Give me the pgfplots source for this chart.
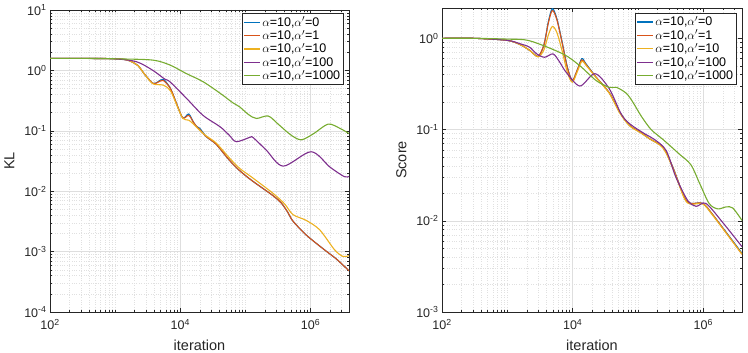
\documentclass[border=0pt]{standalone}
\usepackage{fontspec}
\setmainfont{Liberation Sans}
\usepackage{pgfplots}
\pgfplotsset{compat=1.18}
\definecolor{m1}{RGB}{0,114,189}
\definecolor{m2}{RGB}{217,83,25}
\definecolor{m3}{RGB}{237,177,32}
\definecolor{m4}{RGB}{126,47,142}
\definecolor{m5}{RGB}{119,172,48}
\definecolor{ax}{RGB}{38,38,38}
\newcommand{\labfont}{\fontsize{14.5}{17}\selectfont}
\newcommand{\tickfont}{\fontsize{12.5}{15}\selectfont}
\pgfplotsset{
    scale only axis,
    xmin=100, xmax=3.9e6,
    xtick={1e2,1e4,1e6},
    xticklabels={10\textsuperscript{2},10\textsuperscript{4},10\textsuperscript{6}},
    minor xtick={200,300,400,500,600,700,800,900,1000,2000,3000,4000,5000,6000,7000,8000,9000,
      2e4,3e4,4e4,5e4,6e4,7e4,8e4,9e4,1e5,2e5,3e5,4e5,5e5,6e5,7e5,8e5,9e5,2e6,3e6},
    grid=both,
    major grid style={color=black!13, line width=0.5pt},
    minor grid style={color=black!12, dotted, line width=0.5pt},
    axis line style={ax, line width=0.5pt},
    every tick/.style={ax, line width=0.5pt},
    major tick length=4pt, minor tick length=2.2pt,
    tick align=inside,
    xticklabel style={text=ax, font=\tickfont, yshift=-4pt},
    yticklabel style={text=ax, font=\tickfont},
    xlabel={iteration},
    xlabel style={text=ax, font=\labfont, yshift=-3pt},
    ylabel style={text=ax, font=\labfont, yshift=3pt},
    legend cell align=left,
    legend style={font=\fontsize{12.5}{14}\selectfont, draw=ax, line width=0.5pt, fill=white,
      row sep=-1.5pt, inner sep=1.5pt, anchor=north east},
    legend image code/.code={\draw[#1, line width=1.2pt] (0cm,0cm) -- (0.55cm,0cm);},
    every axis plot/.append style={line width=1.1pt, smooth, tension=0.5, mark=none},
}
\begin{document}
\begin{tikzpicture}
\useasboundingbox (0,0) rectangle (748pt,353pt);
% ---------------- Left: KL ----------------
\begin{loglogaxis}[
  anchor=south west,
  at={(50pt,41pt)}, width=299pt, height=302pt,
  ymin=1e-4, ymax=10,
  ytick={1e-4,1e-3,1e-2,1e-1,1e0,1e1},
  yticklabels={10\textsuperscript{-4},10\textsuperscript{-3},10\textsuperscript{-2},10\textsuperscript{-1},10\textsuperscript{0},10\textsuperscript{1}},
  ylabel={KL},
  legend style={at={(0.983,0.99)}},
]
\addplot[m1] coordinates {
(100,1.58)(316.2,1.58)(1000,1.56)(1585,1.47)(2239,1.2)(2818,0.87)(3802,0.61)(4571,0.65)
(5495,0.71)(7079,0.5)(8913,0.27)(10965,0.163)(13490,0.19)(15849,0.14)(17783,0.118)
(19953,0.11)(25119,0.08)(35481,0.06)(56234,0.033)(81283,0.022)(125893,0.015)(263027,0.0085)
(354813,0.0064)(446684,0.0045)(537032,0.0032)(851138,0.0019)(1584893,0.0011)(2511886,0.00075)(3900000,0.00048)};
\addlegendentry{$\alpha$=10,$\alpha'$=0}
\addplot[m2] coordinates {
(100,1.58)(316.2,1.58)(1000,1.56)(1585,1.47)(2239,1.2)(2818,0.87)(3802,0.61)(4571,0.64)
(5495,0.68)(7079,0.5)(8913,0.27)(10965,0.163)(13490,0.18)(15849,0.14)(17783,0.118)
(19953,0.105)(25119,0.08)(35481,0.06)(56234,0.033)(81283,0.022)(125893,0.015)(263027,0.0085)
(354813,0.0064)(446684,0.0045)(537032,0.0032)(851138,0.0019)(1584893,0.0011)(2511886,0.00075)(3900000,0.00048)};
\addlegendentry{$\alpha$=10,$\alpha'$=1}
\addplot[m3] coordinates {
(100,1.58)(316.2,1.58)(1000,1.56)(1585,1.47)(2239,1.2)(2818,0.87)(3802,0.6)(5495,0.57)
(7079,0.46)(8913,0.26)(10965,0.16)(13490,0.15)(15849,0.13)(19953,0.102)(25119,0.082)
(35481,0.063)(56234,0.036)(81283,0.024)(125893,0.017)(263027,0.0093)(398107,0.0062)
(537032,0.0041)(851138,0.0033)(1380384,0.0023)(2344229,0.00107)(3162278,0.00083)(3900000,0.00086)};
\addlegendentry{$\alpha$=10,$\alpha'$=10}
\addplot[m4] coordinates {
(100,1.58)(316.2,1.58)(1000,1.55)(2138,1.39)(3802,1.0)(5754,0.72)(6918,0.65)(12303,0.35)
(22387,0.18)(40738,0.117)(56234,0.085)(72444,0.066)(117490,0.078)(131826,0.077)
(208930,0.048)(380189,0.026)(1023293,0.045)(1995262,0.025)(3311311,0.0174)(3900000,0.0176)};
\addlegendentry{$\alpha$=10,$\alpha'$=100}
\addplot[m5] coordinates {
(100,1.58)(316.2,1.58)(1175,1.55)(3802,1.48)(6918,1.23)(12303,0.89)(22387,0.65)(40738,0.42)
(64565,0.29)(81283,0.25)(112202,0.185)(147911,0.16)(223872,0.176)(316228,0.13)
(501187,0.085)(724436,0.071)(1122018,0.09)(1862087,0.129)(2818383,0.11)(3900000,0.09)};
\addlegendentry{$\alpha$=10,$\alpha'$=1000}
\end{loglogaxis}
% ---------------- Right: Score ----------------
\begin{loglogaxis}[
  anchor=south west,
  at={(442pt,41pt)}, width=300pt, height=304pt,
  ymin=1e-3, ymax=2.15,
  ytick={1e-3,1e-2,1e-1,1e0},
  yticklabels={10\textsuperscript{-3},10\textsuperscript{-2},10\textsuperscript{-1},10\textsuperscript{0}},
  ylabel={Score},
  legend style={at={(0.983,0.984)}},
]
\addplot[m1] coordinates {
(100,1.0)(316.2,1.0)(1000,0.95)(1585,0.85)(2188,0.74)(2951,0.635)(3631,0.85)(4266,1.55)
(4898,2.12)(5754,1.62)(6918,0.9)(8318,0.48)(9886,0.344)(11749,0.45)(13804,0.60)(15849,0.53)
(22909,0.374)(36308,0.253)(52481,0.155)(74131,0.111)(107152,0.094)(151356,0.079)(239883,0.064)
(338844,0.039)(512861,0.018)(645654,0.0155)(977237,0.0155)(1412538,0.0115)(3900000,0.0044)};
\addlegendentry{$\alpha$=10,$\alpha'$=0}
\addplot[m2] coordinates {
(100,1.0)(316.2,1.0)(1000,0.95)(1585,0.85)(2188,0.74)(2951,0.635)(3631,0.85)(4266,1.5)
(4898,2.02)(5754,1.58)(6918,0.88)(8318,0.47)(9886,0.344)(11749,0.45)(13804,0.58)(15849,0.52)
(22909,0.374)(36308,0.253)(52481,0.155)(74131,0.111)(107152,0.094)(151356,0.079)(239883,0.064)
(338844,0.039)(512861,0.018)(645654,0.0155)(977237,0.0155)(1412538,0.0115)(3900000,0.0043)};
\addlegendentry{$\alpha$=10,$\alpha'$=1}
\addplot[m3] coordinates {
(100,1.0)(316.2,1.0)(1000,0.95)(1585,0.85)(2188,0.74)(2951,0.625)(3631,0.75)(4266,1.1)
(4898,1.35)(5754,1.15)(6918,0.72)(8318,0.42)(9886,0.33)(11749,0.43)(13804,0.56)(15849,0.51)
(22909,0.37)(36308,0.25)(52481,0.152)(74131,0.11)(107152,0.093)(151356,0.079)(239883,0.063)
(338844,0.038)(512861,0.0175)(645654,0.0152)(977237,0.0153)(1412538,0.0113)(3900000,0.0043)};
\addlegendentry{$\alpha$=10,$\alpha'$=10}
\addplot[m4] coordinates {
(100,1.0)(316.2,1.0)(1000,0.95)(1585,0.87)(2188,0.80)(2818,0.675)(3715,0.62)(5012,0.675)
(6310,0.55)(7943,0.425)(12882,0.30)(21878,0.41)(36308,0.28)(54954,0.149)(74131,0.116)
(125893,0.09)(177828,0.078)(269153,0.059)(380189,0.030)(575440,0.0167)(776247,0.0144)
(1096478,0.0155)(1995262,0.0095)(3900000,0.0052)};
\addlegendentry{$\alpha$=10,$\alpha'$=100}
\addplot[m5] coordinates {
(100,1.0)(316.2,1.0)(1000,0.98)(2188,0.94)(7079,0.675)(12882,0.50)(22909,0.344)(36308,0.29)
(46774,0.29)(66069,0.25)(83176,0.2)(112202,0.14)(158489,0.1)(239883,0.078)(426580,0.054)
(645654,0.041)(891251,0.025)(1230269,0.0154)(1659587,0.0135)(2238721,0.0142)(2818383,0.0138)(3900000,0.0101)};
\addlegendentry{$\alpha$=10,$\alpha'$=1000}
\end{loglogaxis}
\end{tikzpicture}
\end{document}
